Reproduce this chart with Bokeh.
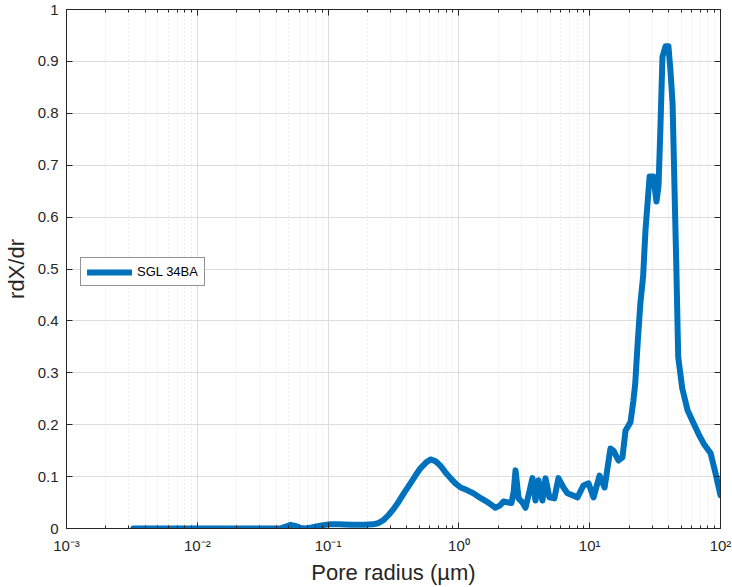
from bokeh.plotting import figure
from bokeh.models import (Range1d, FixedTicker, LogAxis, LinearAxis, Legend, LegendItem,
                          CustomJSTickFormatter)
from bokeh.embed import file_html
from bokeh.resources import INLINE

# ---- data ----
radius_um = [0.00324, 0.005, 0.01, 0.02, 0.03, 0.043, 0.048, 0.0515, 0.056, 0.062,
             0.067, 0.075, 0.085, 0.095, 0.104, 0.12, 0.15, 0.19, 0.22, 0.24,
             0.265, 0.29, 0.315, 0.339, 0.38, 0.426, 0.468, 0.508, 0.56, 0.607,
             0.66, 0.723, 0.79, 0.862, 0.94, 1.03, 1.15, 1.29, 1.48, 1.68,
             1.74, 1.90, 2.05, 2.19, 2.39, 2.52, 2.62, 2.71, 2.86, 3.06,
             3.23, 3.45, 3.65, 3.85, 4.06, 4.2, 4.35, 4.59, 4.92, 5.37,
             5.77, 6.3, 6.76, 7.38, 8.07, 8.96, 9.79, 10.7, 11.9, 13.0,
             14.4, 15.2, 16.6, 17.8, 18.8, 20.5, 21.6, 22.3, 23.3, 24.4,
             25.6, 26.7, 28.7, 30.7, 32.4, 33.6, 34.8, 36.0, 38.0, 40.0,
             41.5, 43.0, 45.9, 47.5, 51.0, 56.0, 62.2, 68.0, 74.2, 84.0,
             91.7, 100.0]
rdx_dr = [0.0, 0.0, 0.0, 0.0, 0.0, 0.0, 0.004, 0.007, 0.005, 0.001,
          0.0, 0.002, 0.005, 0.007, 0.008, 0.008, 0.007, 0.007, 0.008, 0.010,
          0.016, 0.026, 0.037, 0.048, 0.068, 0.087, 0.103, 0.116, 0.127, 0.133,
          0.130, 0.121, 0.108, 0.097, 0.087, 0.079, 0.074, 0.068, 0.058, 0.050,
          0.047, 0.040, 0.044, 0.052, 0.050, 0.049, 0.070, 0.112, 0.058, 0.050,
          0.040, 0.070, 0.097, 0.054, 0.093, 0.070, 0.054, 0.097, 0.060, 0.058,
          0.097, 0.079, 0.068, 0.064, 0.060, 0.083, 0.087, 0.060, 0.102, 0.079,
          0.154, 0.150, 0.131, 0.137, 0.189, 0.205, 0.247, 0.280, 0.360, 0.434,
          0.485, 0.575, 0.678, 0.678, 0.630, 0.660, 0.780, 0.909, 0.929, 0.929,
          0.880, 0.820, 0.510, 0.330, 0.270, 0.228, 0.203, 0.182, 0.164, 0.145,
          0.106, 0.064]
series_name = "SGL 34BA"

x_ticks = [1e-3, 1e-2, 1e-1, 1.0, 10.0, 100.0]
x_tick_labels = ["10\u207b\u00b3", "10\u207b\u00b2", "10\u207b\u00b9", "10\u2070", "10\u00b9", "10\u00b2"]
y_ticks = [0.0, 0.1, 0.2, 0.3, 0.4, 0.5, 0.6, 0.7, 0.8, 0.9, 1.0]
y_tick_labels = ["0", "0.1", "0.2", "0.3", "0.4", "0.5", "0.6", "0.7", "0.8", "0.9", "1"]
x_minor = [m * d for d in [1e-3, 1e-2, 1e-1, 1.0, 10.0] for m in range(2, 10)]

FONT = "Liberation Sans"
AX = "#262626"
GRID = "#dcdcdc"

p = figure(width=732, height=587, x_axis_type="log",
           x_range=Range1d(1e-3, 1e2), y_range=Range1d(0, 1),
           output_backend="svg", toolbar_location=None,
           min_border_left=66, min_border_right=12,
           min_border_top=9, min_border_bottom=59)
p.background_fill_color = "white"
p.border_fill_color = "white"
p.outline_line_color = AX
p.outline_line_width = 1

line = p.line(radius_um, rdx_dr, line_width=6, line_color="#0072BD",
              line_join="round", line_cap="round")

# bottom axis
xa = p.xaxis[0]
xa.ticker = FixedTicker(ticks=x_ticks, minor_ticks=x_minor)
xa.major_label_overrides = dict(zip(x_ticks, x_tick_labels))
xa.axis_label = "Pore radius (\u00b5m)"
# left axis
ya = p.yaxis[0]
ya.ticker = FixedTicker(ticks=y_ticks)
ya.major_label_overrides = dict(zip(y_ticks, y_tick_labels))
ya.axis_label = "rdX/dr"

for ax in (xa, ya):
    ax.axis_line_color = AX
    ax.major_tick_line_color = AX
    ax.minor_tick_line_color = AX
    ax.major_tick_in = 6
    ax.major_tick_out = 0
    ax.minor_tick_in = 3
    ax.minor_tick_out = 0
    ax.major_label_text_font = FONT
    ax.major_label_text_font_size = "15px"
    ax.major_label_text_color = AX
    ax.axis_label_text_font = FONT
    ax.axis_label_text_font_size = "22px"
    ax.axis_label_text_font_style = "normal"
    ax.axis_label_text_color = AX
ya.minor_tick_line_color = None
xa.major_label_standoff = 8
xa.axis_label_standoff = 3
ya.major_label_standoff = 8
ya.axis_label_standoff = 6

# box axes (top & right) with inward ticks, no labels
blank = CustomJSTickFormatter(code="return '';")
top = LogAxis(ticker=FixedTicker(ticks=x_ticks, minor_ticks=x_minor),
              formatter=blank, major_label_standoff=0,
              axis_line_color=AX, major_tick_line_color=AX, minor_tick_line_color=AX,
              major_tick_in=6, major_tick_out=0, minor_tick_in=3, minor_tick_out=0)
p.add_layout(top, "above")
right = LinearAxis(ticker=FixedTicker(ticks=y_ticks),
                   formatter=blank, major_label_standoff=0,
                   axis_line_color=AX, major_tick_line_color=AX, minor_tick_line_color=None,
                   major_tick_in=6, major_tick_out=0)
p.add_layout(right, "right")

# grids
p.xgrid.grid_line_color = GRID
p.xgrid.minor_grid_line_color = GRID
p.xgrid.minor_grid_line_dash = "1 3"
p.ygrid.grid_line_color = GRID
p.ygrid.ticker = FixedTicker(ticks=y_ticks)

legend = Legend(items=[LegendItem(label=series_name, renderers=[line])],
                location=(14, 242), orientation="vertical",
                padding=6, margin=0, spacing=0,
                glyph_width=45, glyph_height=8, label_height=8,
                label_standoff=5,
                label_text_font=FONT, label_text_font_size="13px",
                label_text_color="black",
                border_line_color=AX, border_line_width=1,
                background_fill_color="white", background_fill_alpha=1)
p.add_layout(legend)

open("out.html", "w").write(file_html(p, INLINE))
